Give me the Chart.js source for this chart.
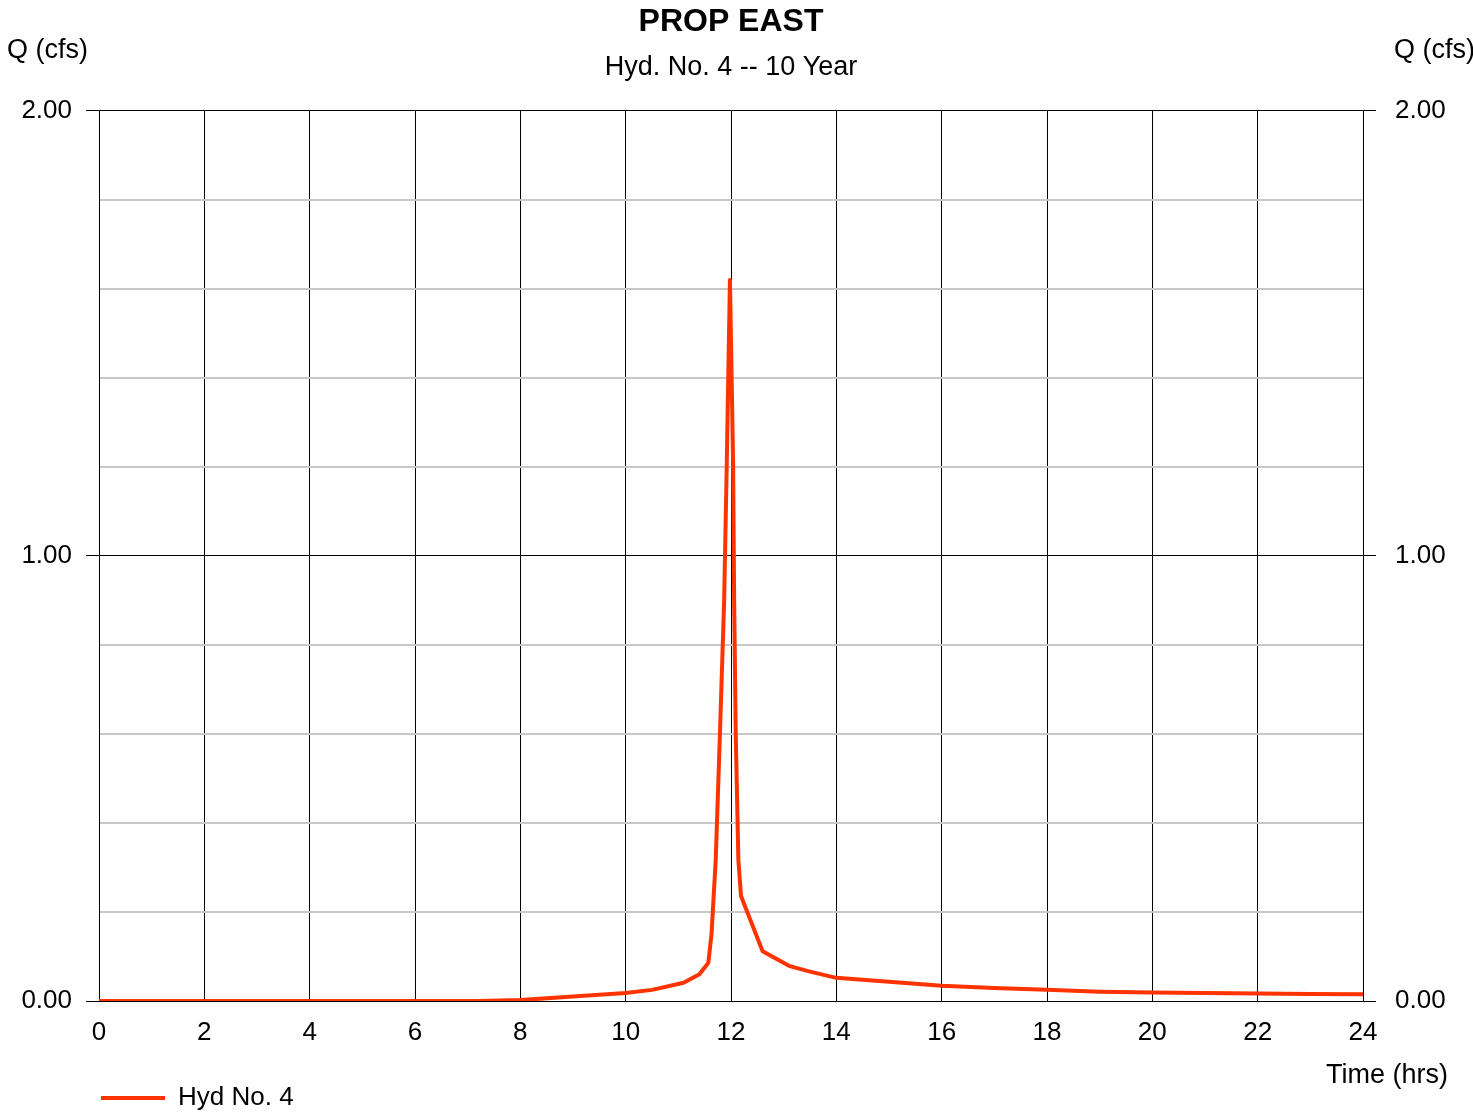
<!DOCTYPE html>
<html>
<head>
<meta charset="utf-8">
<script src="https://cdn.jsdelivr.net/npm/chart.js@4/dist/chart.umd.min.js"></script>
<style>
  html, body { margin: 0; padding: 0; background: #fff; }
  #wrap { width: 1473px; height: 1112px; }
</style>
</head>
<body>
<div id="wrap"><canvas id="myChart" width="1473" height="1112"></canvas></div>
<script>
// hydrograph, time in hrs / flow in cfs
const times = [0, 2, 4, 6, 7.2, 8, 9, 10, 10.5, 11.1, 11.4, 11.57, 11.63, 11.71, 11.79, 11.87, 11.92, 11.98,
               12.04, 12.06, 12.09, 12.14, 12.19, 12.6, 13.1, 13.5, 14, 15, 16, 17, 18, 19, 20, 21, 22, 23, 24];
const flows = [0, 0, 0, 0, 0, 0.002, 0.01, 0.018, 0.025, 0.041, 0.06, 0.086, 0.15, 0.317, 0.6, 0.9, 1.21, 1.62,
               1.21, 0.9, 0.6, 0.317, 0.236, 0.112, 0.079, 0.066, 0.052, 0.043, 0.034, 0.029, 0.025, 0.021, 0.019, 0.018, 0.017, 0.016, 0.015];

const titleText = 'PROP EAST';
const subtitleText = 'Hyd. No. 4 -- 10 Year';
const seriesName = 'Hyd No. 4';
const yTitle = 'Q (cfs)';
const xTitle = 'Time (hrs)';

const FONT = "'Liberation Sans', Arial, sans-serif";
const lineColor = '#ff3300';

const isMajor = v => Math.abs(v - Math.round(v)) < 1e-6;

// axis captions that sit outside the usual axis title spots
const captions = {
    id: 'captions',
    afterDraw(chart) {
        const { ctx, chartArea } = chart;
        ctx.save();
        ctx.font = '27px ' + FONT;
        ctx.fillStyle = '#000';
        ctx.textBaseline = 'middle';
        ctx.textAlign = 'left';
        ctx.fillText(yTitle, 7, 51);
        ctx.fillText(yTitle, chartArea.right + 31, 51);
        ctx.textAlign = 'right';
        ctx.fillText(xTitle, chartArea.right + 85, 1076);
        ctx.restore();
    }
};

const yGrid = {
    color: c => isMajor(c.tick.value) ? '#000' : '#c8c8c8',
    lineWidth: c => isMajor(c.tick.value) ? 1 : 2,
    tickColor: c => isMajor(c.tick.value) ? '#000' : 'rgba(0,0,0,0)',
    tickWidth: 1,
    tickLength: 13,
};
const yTicks = {
    stepSize: 0.2,
    color: '#000',
    font: { family: FONT, size: 26 },
    callback: v => isMajor(v) ? v.toFixed(2) : '',
};

let ctx = document.getElementById('myChart').getContext('2d');
let chart = new Chart(ctx, {
    type: 'line',
    data: {
        datasets: [{
            label: seriesName,
            data: times.map((t, i) => ({ x: t, y: flows[i] })),
            borderColor: lineColor,
            backgroundColor: lineColor,
            borderWidth: 4,
            borderCapStyle: 'round',
            borderJoinStyle: 'round',
            pointRadius: 0,
            tension: 0,
            fill: false,
            pointStyle: 'line',
        }]
    },
    options: {
        responsive: false,
        animation: false,
        layout: { padding: { left: 0, right: 0, top: 0, bottom: -9 } },
        plugins: {
            title: {
                display: true,
                text: titleText,
                fullSize: false,
                color: '#000',
                font: { family: FONT, size: 32, weight: 'bold' },
                padding: { top: 3, bottom: 0 },
            },
            subtitle: {
                display: true,
                text: subtitleText,
                fullSize: false,
                color: '#000',
                font: { family: FONT, size: 27 },
                padding: { top: 10, bottom: 27 },
            },
            legend: {
                position: 'bottom',
                align: 'start',
                fullSize: false,
                labels: {
                    usePointStyle: true,
                    pointStyleWidth: 64,
                    padding: 2,
                    color: '#000',
                    font: { family: FONT, size: 26 },
                },
            },
            tooltip: { enabled: false },
        },
        scales: {
            x: {
                type: 'linear',
                min: 0,
                max: 24,
                afterFit: s => { s.height = 82; },
                ticks: {
                    stepSize: 2,
                    padding: 16,
                    maxRotation: 0,
                    color: '#000',
                    font: { family: FONT, size: 26 },
                },
                grid: { color: '#000', lineWidth: 1, drawTicks: false },
                border: { color: '#000', width: 1 },
            },
            y: {
                position: 'left',
                min: 0,
                max: 2,
                afterFit: s => { s.width = 99; },
                ticks: Object.assign({ padding: 14 }, yTicks),
                grid: yGrid,
                border: { color: '#000', width: 1 },
            },
            y2: {
                position: 'right',
                min: 0,
                max: 2,
                afterFit: s => { s.width = 110; },
                ticks: Object.assign({ padding: 19 }, yTicks),
                grid: Object.assign({ drawOnChartArea: false }, yGrid),
                border: { color: '#000', width: 1 },
            },
        },
    },
    plugins: [captions],
});
</script>
</body>
</html>
